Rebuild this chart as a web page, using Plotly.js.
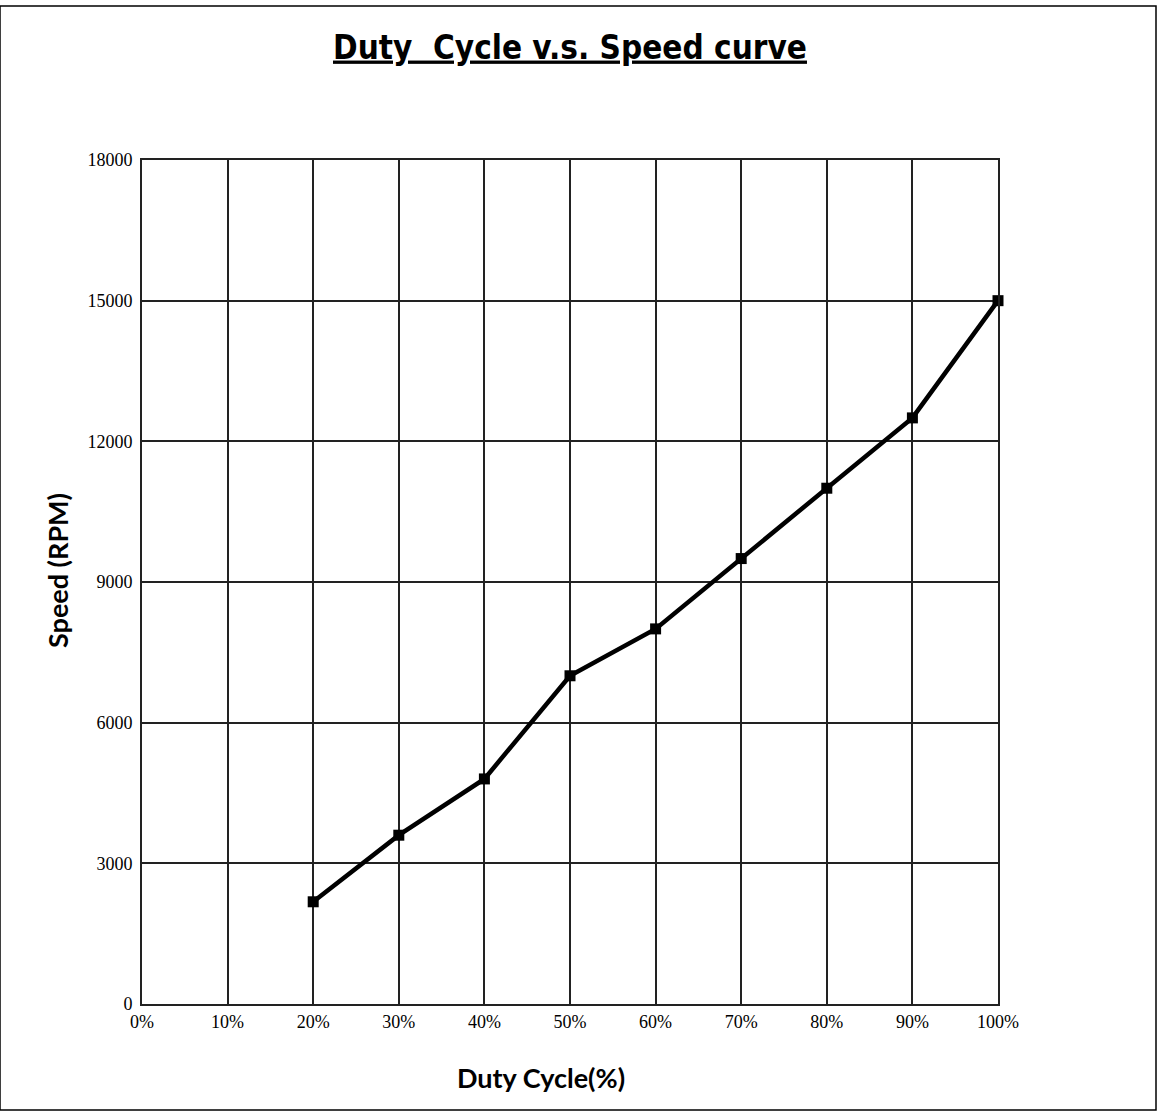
<!DOCTYPE html>
<html>
<head>
<meta charset="utf-8">
<script src="https://cdn.plot.ly/plotly-3.0.1.min.js"></script>
<style>html,body{margin:0;padding:0;background:#fff;}#chart{width:1160px;height:1113px;}</style>
</head>
<body>
<div id="chart"></div>
<script>
var dutyCycle = [0.2, 0.3, 0.4, 0.5, 0.6, 0.7, 0.8, 0.9, 1.0];
var speedRPM = [2180, 3600, 4800, 7000, 8000, 9500, 11000, 12500, 15000];
var xTickVals = [0, 0.1, 0.2, 0.3, 0.4, 0.5, 0.6, 0.7, 0.8, 0.9, 1.0];
var xTickText = ['0%', '10%', '20%', '30%', '40%', '50%', '60%', '70%', '80%', '90%', '100%'];
var yTickVals = [0, 3000, 6000, 9000, 12000, 15000, 18000];

var trace = {
  x: dutyCycle,
  y: speedRPM,
  mode: 'lines+markers',
  type: 'scatter',
  cliponaxis: false,
  line: {color: '#000', width: 4.5},
  marker: {symbol: 'square', size: 11, color: '#000'},
  showlegend: false,
  hoverinfo: 'none'
};

var tickFont = {family: '"Liberation Serif", "DejaVu Serif", serif', size: 18, color: '#000'};
var labelFont = {family: 'Lato, "Open Sans", sans-serif', size: 27, color: '#000', weight: 'bold'};

var layout = {
  width: 1160,
  height: 1113,
  paper_bgcolor: '#fff',
  plot_bgcolor: '#fff',
  margin: {l: 142, r: 162, t: 160, b: 109},
  title: {
    text: '<u>Duty  Cycle v.s. Speed curve</u>',
    x: 0.5, xanchor: 'center', xref: 'paper',
    y: 1 - 47/1113, yanchor: 'middle',
    font: {family: '"DejaVu Sans Condensed", "Liberation Sans Narrow", sans-serif', size: 33, color: '#000', weight: 'bold'}
  },
  xaxis: {
    range: [0, 1],
    tickvals: xTickVals,
    ticktext: xTickText,
    showgrid: true, gridcolor: '#222', gridwidth: 2,
    showline: true, linecolor: '#222', linewidth: 2, mirror: true,
    zeroline: false,
    ticks: '', tickfont: tickFont,
    fixedrange: true
  },
  yaxis: {
    range: [0, 18000],
    tickvals: yTickVals,
    ticktext: yTickVals.map(String),
    showgrid: true, gridcolor: '#222', gridwidth: 2,
    showline: true, linecolor: '#222', linewidth: 2, mirror: true,
    zeroline: false,
    ticks: '', tickfont: tickFont, ticklabelstandoff: 4,
    fixedrange: true
  },
  annotations: [
    {text: 'Duty Cycle(%)', xref: 'paper', yref: 'paper', x: (541-142)/856, y: -(1077-1004)/844,
     xanchor: 'center', yanchor: 'middle', showarrow: false, font: labelFont},
    {text: 'Speed (RPM)', xref: 'paper', yref: 'paper', x: -(142-57)/856, y: (1004-571)/844,
     xanchor: 'center', yanchor: 'middle', showarrow: false, textangle: -90, font: labelFont}
  ],
  shapes: [{
    type: 'rect', xref: 'paper', yref: 'paper',
    x0: -142/856, x1: (1160-4-142)/856, y0: -(109-3)/844, y1: (1113-6-109)/844,
    line: {color: '#000', width: 1.5}, fillcolor: 'rgba(0,0,0,0)'
  }]
};

Plotly.newPlot('chart', [trace], layout, {displayModeBar: false, staticPlot: true});
</script>
</body>
</html>
